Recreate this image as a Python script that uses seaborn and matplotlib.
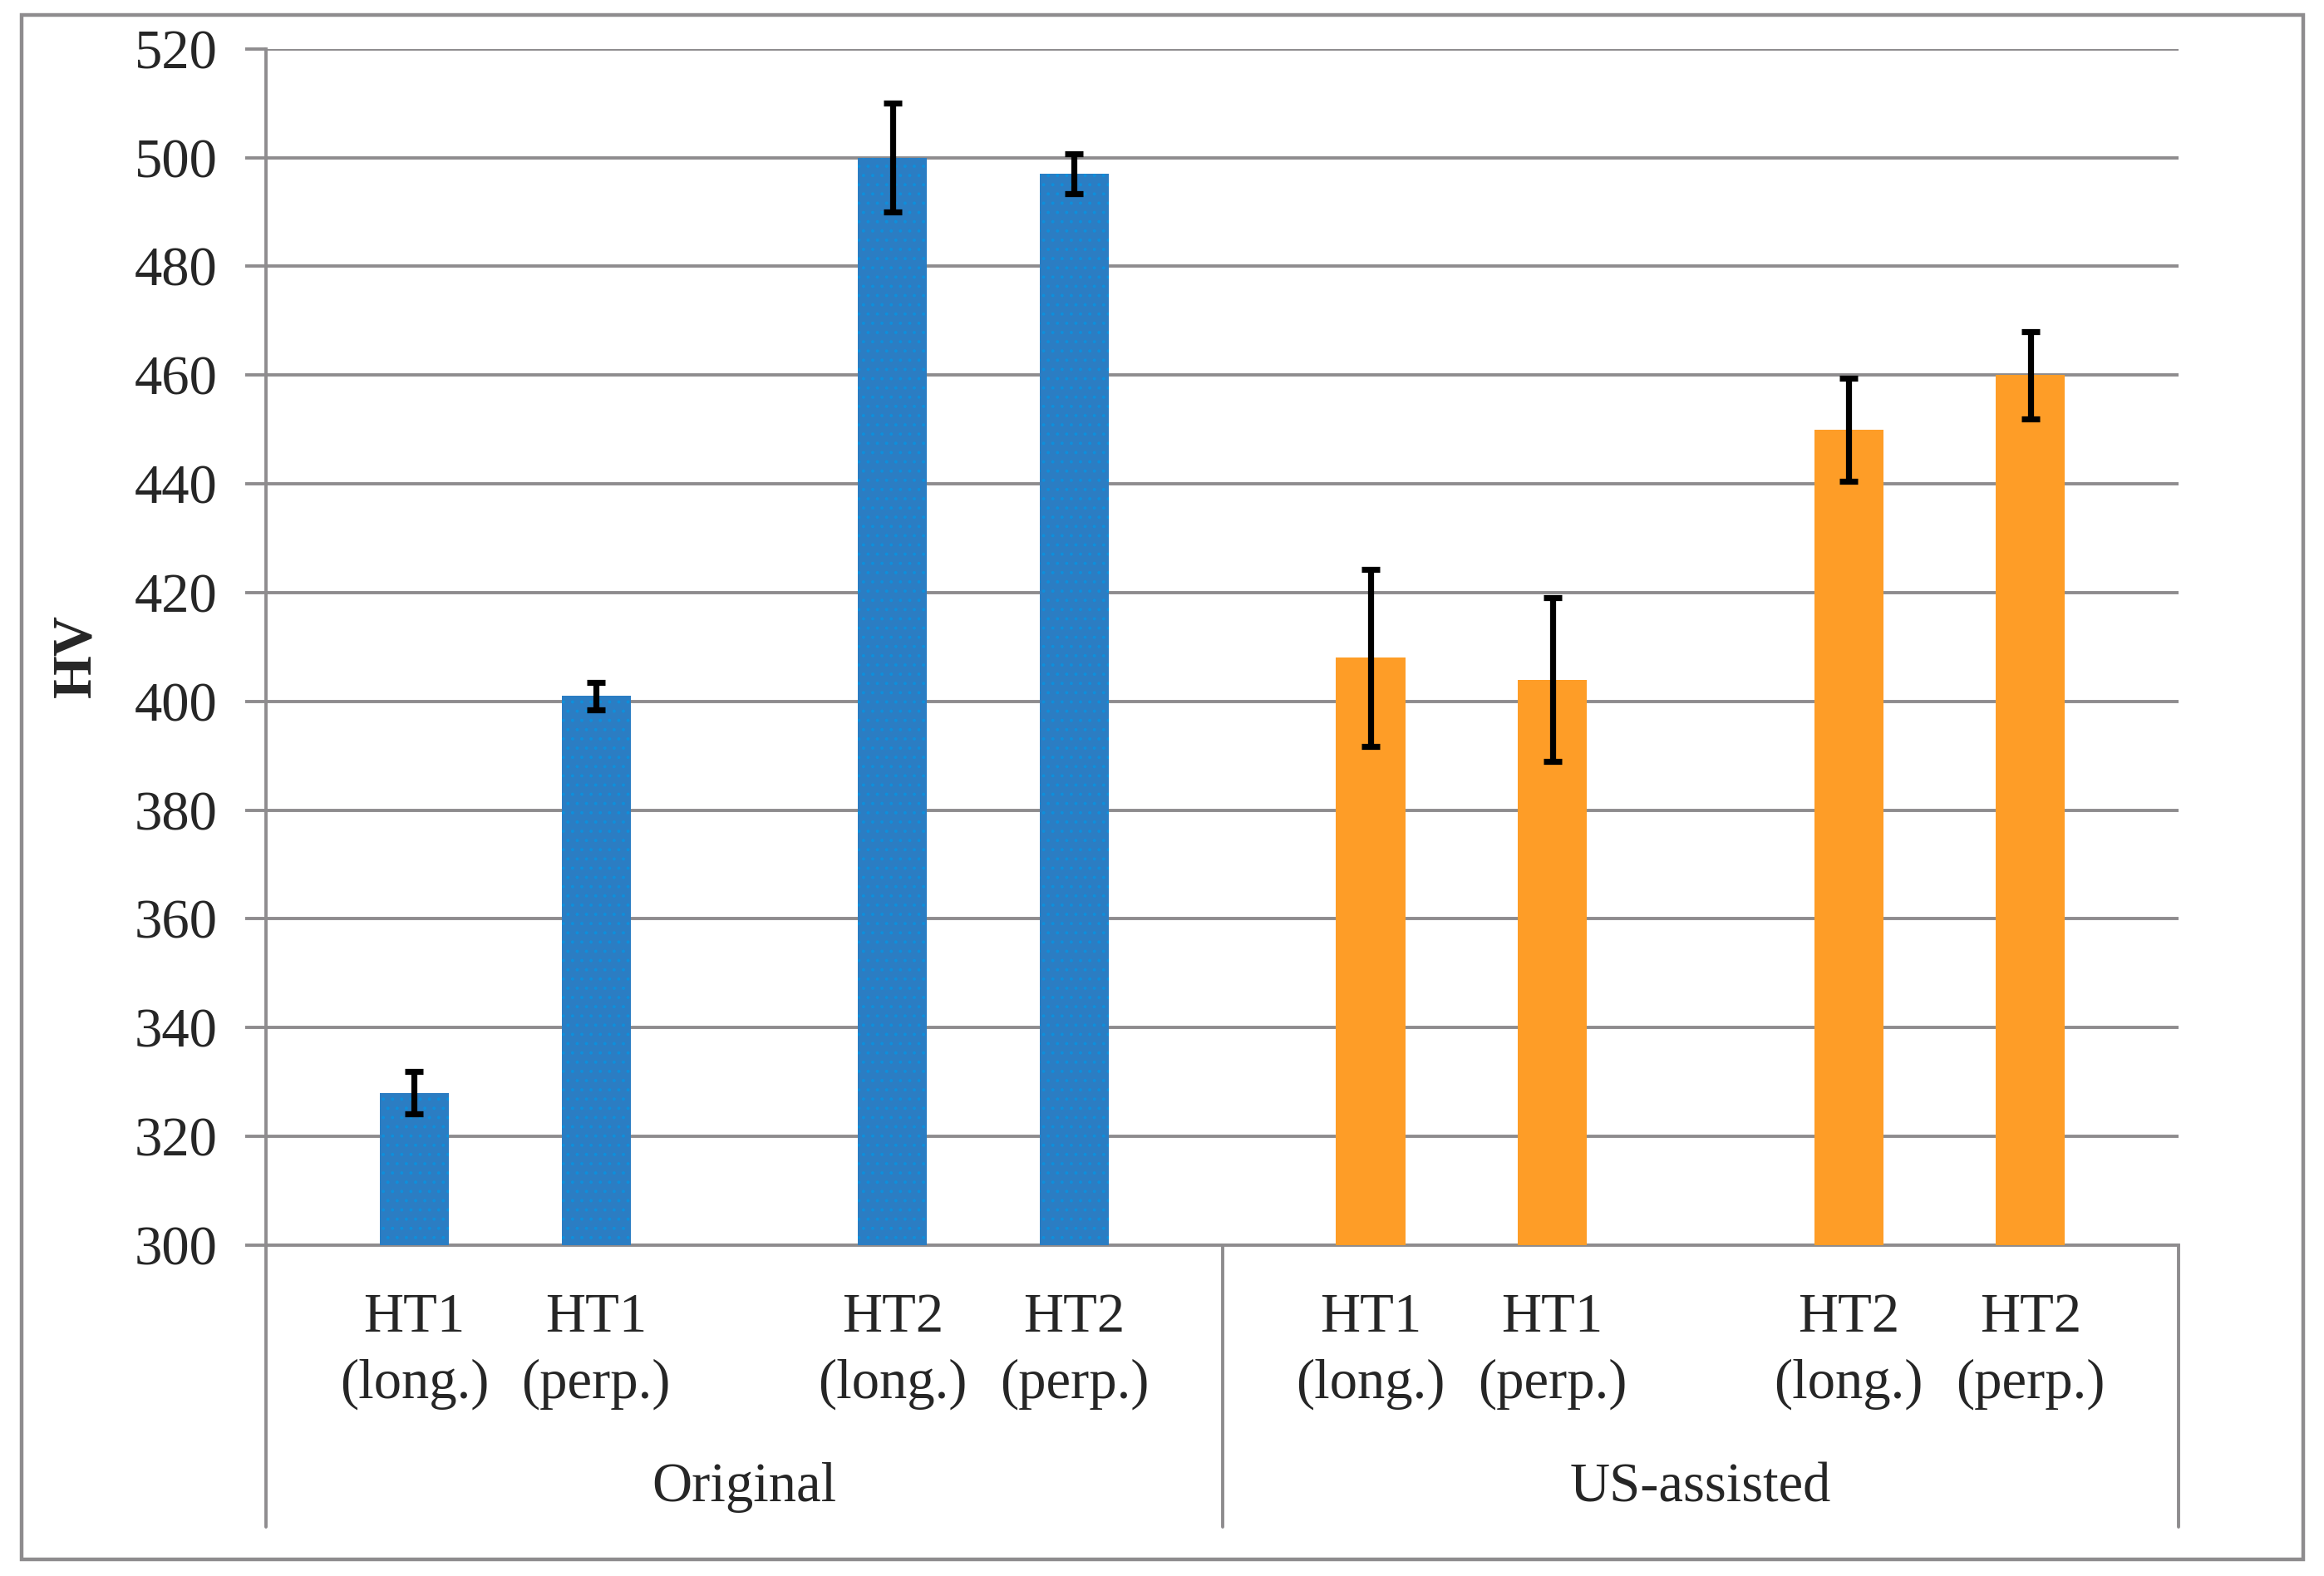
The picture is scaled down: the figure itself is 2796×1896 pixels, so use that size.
import pandas as pd
import numpy as np
import matplotlib
matplotlib.use("Agg")
import matplotlib.pyplot as plt
import matplotlib.transforms as mtransforms
from matplotlib.patches import Rectangle
import seaborn as sns

# data
groups = ["Original", "US-assisted"]
treatments = ["HT1", "HT2"]
directions = ["long.", "perp."]
# order: group -> treatment -> direction
hv_mean = [328, 401, 500, 497, 408, 404, 450, 460]
hv_err = [3.9, 2.5, 10, 3.7, 16.3, 15, 9.5, 8]

group_colors = {"Original": "#2B7DC3", "US-assisted": "#FE9D27"}
dot_colors = {"Original": "#0E8FDB", "US-assisted": "#FE9D27"}

rows = []
i = 0
for g in groups:
    for t in treatments:
        for d in directions:
            rows.append({"group": g, "treatment": t, "direction": d,
                         "cond": g + "|" + t, "hv": hv_mean[i], "err": hv_err[i]})
            i += 1
df = pd.DataFrame(rows)
cond_order = list(dict.fromkeys(df["cond"]))

sns.set_style("white")
plt.rcParams["font.family"] = ["Liberation Serif", "DejaVu Serif"]
plt.rcParams["hatch.linewidth"] = 0.6

grid_c = "#8E8C8E"
fs = 24

fig = plt.figure(figsize=(13.98, 9.48), dpi=200)
ax = fig.add_axes([0.1145, 0.210, 0.9375 - 0.1145, 0.969 - 0.210])

sns.barplot(data=df, x="cond", y="hv", hue="direction", order=cond_order,
            hue_order=directions, width=0.76, gap=0.62, errorbar=None,
            legend=False, ax=ax, zorder=3)
bar_conts = list(ax.containers)

ax.set_ylim(300, 520)
ax.set_xlim(-0.5, 3.5)
ax.set_yticks(np.arange(300, 521, 20))
ax.yaxis.grid(True, color=grid_c, linewidth=1.4, zorder=0)
ax.set_axisbelow(True)
ax.tick_params(axis="y", length=9, width=1.4, color=grid_c, pad=12,
               labelsize=fs, left=True)
ax.tick_params(axis="x", bottom=False, labelbottom=False)
for s in ["top", "right"]:
    ax.spines[s].set_visible(False)
for s in ["left", "bottom"]:
    ax.spines[s].set_color(grid_c)
    ax.spines[s].set_linewidth(1.4)
ax.set_xlabel("")
ax.set_ylabel("")

trans = mtransforms.blended_transform_factory(ax.transData, ax.transAxes)

# recolour bars by group, add error bars and two-line labels
for k, cont in enumerate(bar_conts):
    d = directions[k]
    for j, bar in enumerate(cont):
        g, t = cond_order[j].split("|")
        row = df[(df["cond"] == cond_order[j]) & (df["direction"] == d)].iloc[0]
        bar.set_facecolor(group_colors[g])
        bar.set_edgecolor(dot_colors[g])
        bar.set_linewidth(0)
        if g == "Original":
            bar.set_hatch("...")
        xc = bar.get_x() + bar.get_width() / 2
        ax.errorbar(xc, row["hv"], yerr=row["err"], fmt="none", ecolor="black",
                    elinewidth=2.6, capsize=4, capthick=2.6, zorder=5)
        ax.text(xc, -0.089, f"{t}\n({d[:-1]}.)", transform=trans, ha="center",
                va="center", fontsize=fs, linespacing=1.39)

# group labels and separators under the axis
for gi, g in enumerate(groups):
    ax.text(gi * 2 + 0.5, -0.203, g, transform=trans, ha="center",
            va="center", fontsize=fs)
for xs in [-0.5, 1.5, 3.5]:
    ax.plot([xs, xs], [0, -0.236], transform=trans, color=grid_c,
            linewidth=1.4, clip_on=False)

fig.text(0.033, 0.584, "HV", rotation=90, ha="center", va="center",
         fontsize=fs, fontweight="bold")

fig.patches.append(Rectangle((0.0093, 0.0105), 0.991 - 0.0093, 0.9905 - 0.0105,
                             transform=fig.transFigure, fill=False,
                             edgecolor=grid_c, linewidth=1.6))

fig.savefig("out.png", dpi=200)
